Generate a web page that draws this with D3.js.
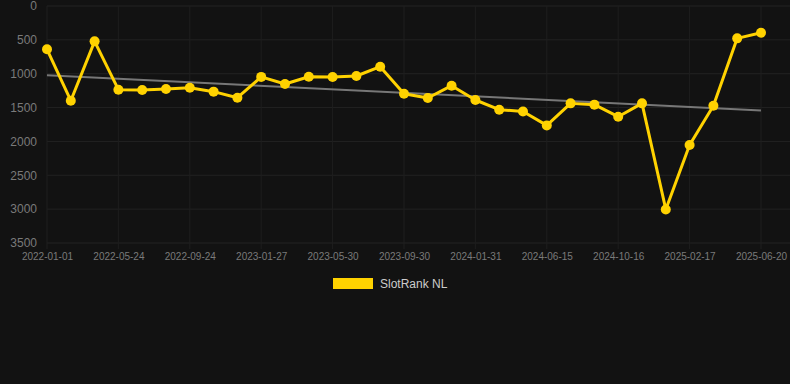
<!DOCTYPE html>
<html>
<head>
<meta charset="utf-8">
<script src="https://cdn.jsdelivr.net/npm/d3@7"></script>
<style>
  html, body { margin: 0; padding: 0; background: #121212; }
  #chart { width: 790px; height: 384px; }
  text { font-family: Arial, "Liberation Sans", sans-serif; }
</style>
</head>
<body>
<div id="chart"></div>
<script>
// rank per sample (lower is better), 31 samples
var rankValues = [640, 1399, 522, 1236, 1241, 1226, 1206, 1265, 1354, 1047,
    1152, 1044, 1049, 1034, 896, 1295, 1359, 1177, 1388, 1531,
    1558, 1763, 1438, 1457, 1635, 1438, 3004, 2053, 1472, 478, 394];
// labels shown on every 3rd sample
var tickLabels = ["2022-01-01", "2022-05-24", "2022-09-24", "2023-01-27", "2023-05-30",
    "2023-09-30", "2024-01-31", "2024-06-15", "2024-10-16", "2025-02-17", "2025-06-20"];
var yTicks = [0, 500, 1000, 1500, 2000, 2500, 3000, 3500];
var seriesName = "SlotRank NL";

var width = 790, height = 384;
var padding = { top: 6, right: 29, bottom: 141, left: 47 };
var yellow = "#ffd200";

var svg = d3.select("#chart").append("svg")
    .attr("width", width)
    .attr("height", height);

var idx = d3.range(rankValues.length);
var xScale = d3.scalePoint()
    .domain(idx)
    .range([padding.left, width - padding.right]);
var yScale = d3.scaleLinear()
    .domain([0, 3500])
    .range([padding.top, height - padding.bottom]);

var tickIdx = idx.filter(function(i) { return i % 3 === 0; });

// grid
svg.append("g").selectAll("line.h")
    .data(yTicks).enter().append("line")
    .attr("x1", padding.left).attr("x2", width)
    .attr("y1", function(d) { return yScale(d); })
    .attr("y2", function(d) { return yScale(d); })
    .attr("stroke", "#222")
    .attr("stroke-width", 1);
svg.append("g").selectAll("line.v")
    .data(tickIdx).enter().append("line")
    .attr("x1", function(d) { return xScale(d); })
    .attr("x2", function(d) { return xScale(d); })
    .attr("y1", padding.top).attr("y2", yScale(3500) + 6)
    .attr("stroke", "#1e1e1e")
    .attr("stroke-width", 1);

// axes
var yAxis = d3.axisLeft(yScale).tickValues(yTicks).tickSize(0).tickPadding(10)
    .tickFormat(d3.format("d"));
svg.append("g")
    .attr("transform", "translate(" + padding.left + ",0)")
    .call(yAxis)
    .call(function(g) { g.select(".domain").remove(); })
    .selectAll("text")
    .attr("fill", "#7a7a7a")
    .style("font-size", "12px");

var xAxis = d3.axisBottom(xScale).tickValues(tickIdx).tickSize(0).tickPadding(10)
    .tickFormat(function(d) { return tickLabels[d / 3]; });
svg.append("g")
    .attr("transform", "translate(0," + yScale(3500) + ")")
    .call(xAxis)
    .call(function(g) { g.select(".domain").remove(); })
    .selectAll("text")
    .attr("fill", "#7a7a7a")
    .style("font-size", "10px");

// trend line (least squares)
var n = rankValues.length;
var mx = d3.mean(idx), my = d3.mean(rankValues);
var sxy = d3.sum(idx, function(i) { return (i - mx) * (rankValues[i] - my); });
var sxx = d3.sum(idx, function(i) { return (i - mx) * (i - mx); });
var slope = sxy / sxx, icpt = my - slope * mx;
var trend = [0, n - 1].map(function(i) { return { i: i, v: icpt + slope * i }; });
svg.append("path")
    .attr("d", d3.line().x(function(d) { return xScale(d.i); }).y(function(d) { return yScale(d.v); })(trend))
    .attr("fill", "none")
    .attr("stroke", "#777")
    .attr("stroke-width", 2);

// series
var linePath = d3.line()
    .x(function(d, i) { return xScale(i); })
    .y(function(d) { return yScale(d); });
svg.append("path")
    .attr("d", linePath(rankValues))
    .attr("fill", "none")
    .attr("stroke", yellow)
    .attr("stroke-width", 3)
    .attr("stroke-linejoin", "round");
svg.append("g").selectAll("circle")
    .data(rankValues).enter().append("circle")
    .attr("cx", function(d, i) { return xScale(i); })
    .attr("cy", function(d) { return yScale(d); })
    .attr("r", 5)
    .attr("fill", yellow);

// legend
var legend = svg.append("g").attr("transform", "translate(333,278)");
legend.append("rect")
    .attr("width", 40).attr("height", 11)
    .attr("fill", yellow);
legend.append("text")
    .attr("x", 47).attr("y", 6)
    .attr("dy", "0.35em")
    .attr("fill", "#ccc")
    .style("font-size", "12px")
    .text(seriesName);
</script>
</body>
</html>
